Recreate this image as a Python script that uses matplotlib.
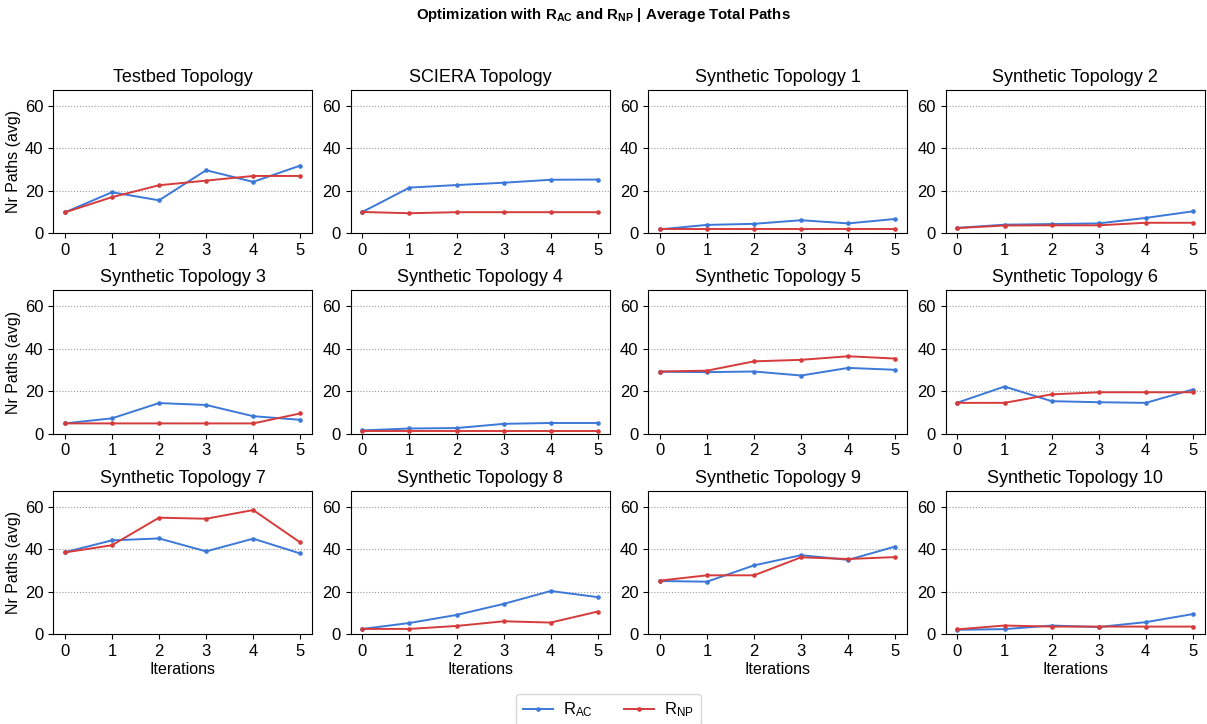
import matplotlib
matplotlib.use("Agg")
import matplotlib.pyplot as plt
import numpy as np

plt.rcParams['font.family'] = ['Liberation Sans', 'DejaVu Sans']
plt.rcParams['mathtext.fontset'] = 'custom'
plt.rcParams['mathtext.rm'] = 'Liberation Sans'
plt.rcParams['mathtext.it'] = 'Liberation Sans:italic'
plt.rcParams['mathtext.bf'] = 'Liberation Sans:bold'
plt.rcParams['mathtext.default'] = 'regular'

# Dados
iteracoes = [0, 1, 2, 3, 4, 5]
topologias = ["Testbed Topology", "SCIERA Topology"] + [f"Synthetic Topology {i}" for i in range(1, 11)]

r_ac = [
    [9.8, 19.3, 15.5, 29.7, 24.2, 31.9],
    [10.0, 21.5, 22.7, 23.8, 25.2, 25.3],
    [1.8, 3.9, 4.4, 6.1, 4.6, 6.7],
    [2.5, 4.0, 4.3, 4.6, 7.2, 10.3],
    [4.8, 7.2, 14.4, 13.5, 8.2, 6.5],
    [1.5, 2.4, 2.6, 4.6, 5.0, 5.0],
    [29.2, 29.0, 29.3, 27.4, 31.0, 30.1],
    [14.6, 22.2, 15.3, 14.8, 14.5, 20.8],
    [38.6, 44.2, 45.1, 39.0, 45.0, 38.0],
    [2.4, 5.2, 9.0, 14.2, 20.3, 17.4],
    [25.0, 24.7, 32.4, 37.2, 35.0, 41.3],
    [2.0, 2.3, 4.0, 3.3, 5.6, 9.4],
]
r_np = [
    [9.8, 17.0, 22.6, 24.8, 27.0, 27.0],
    [10.0, 9.4, 9.9, 9.9, 9.9, 9.9],
    [1.8, 1.8, 1.8, 1.8, 1.8, 1.8],
    [2.4, 3.6, 3.7, 3.7, 4.9, 4.9],
    [4.8, 4.8, 4.8, 4.8, 4.8, 9.5],
    [1.3, 1.3, 1.3, 1.3, 1.3, 1.3],
    [29.3, 29.7, 34.1, 34.8, 36.5, 35.4],
    [14.5, 14.5, 18.5, 19.5, 19.5, 19.5],
    [38.5, 41.9, 54.9, 54.4, 58.5, 43.2],
    [2.4, 2.4, 3.8, 6.0, 5.4, 10.6],
    [25.2, 27.7, 27.7, 36.2, 35.4, 36.3],
    [2.2, 4.0, 3.5, 3.5, 3.5, 3.5],
]

cor_ac = "#3c78d8"
cor_np = "#d63b3b"

fig, axes = plt.subplots(3, 4, figsize=(12.07, 7.24), dpi=100)
fig.subplots_adjust(left=0.044, right=0.998, top=0.8757, bottom=0.1243,
                    wspace=0.149, hspace=0.40)

ymax = max(max(max(a) for a in r_ac), max(max(b) for b in r_np)) * 1.155

for i, ax in enumerate(axes.flat):
    ax.plot(iteracoes, r_ac[i], '-o', color=cor_ac, markersize=2.3, linewidth=1.4, label=r"R$_{AC}$")
    ax.plot(iteracoes, r_np[i], '-o', color=cor_np, markersize=2.3, linewidth=1.4, label=r"R$_{NP}$")
    ax.set_title(topologias[i], fontsize=13)
    ax.set_ylim(0, ymax)
    ax.set_xticks(iteracoes)
    ax.set_yticks([0, 20, 40, 60])
    ax.tick_params(labelsize=12)
    ax.grid(axis='y', linestyle=':', color='#999999', linewidth=0.8)
    ax.set_axisbelow(True)
    if i % 4 == 0:
        ax.set_ylabel("Nr Paths (avg)", fontsize=11.5, labelpad=3)
    if i >= 8:
        ax.set_xlabel("Iterations", fontsize=11.5, labelpad=2)

fig.suptitle(r"Optimization with R$_{\mathbf{AC}}$ and R$_{\mathbf{NP}}$ | Average Total Paths",
             fontsize=10.8, fontweight='bold', y=0.992)

handles, labels = axes[0, 0].get_legend_handles_labels()
fig.legend(handles, labels, loc='lower center', ncol=2, fontsize=12,
           bbox_to_anchor=(0.504, -0.014), handlelength=1.8, columnspacing=1.9,
           handletextpad=0.6)

fig.savefig("out.png", dpi=100)
